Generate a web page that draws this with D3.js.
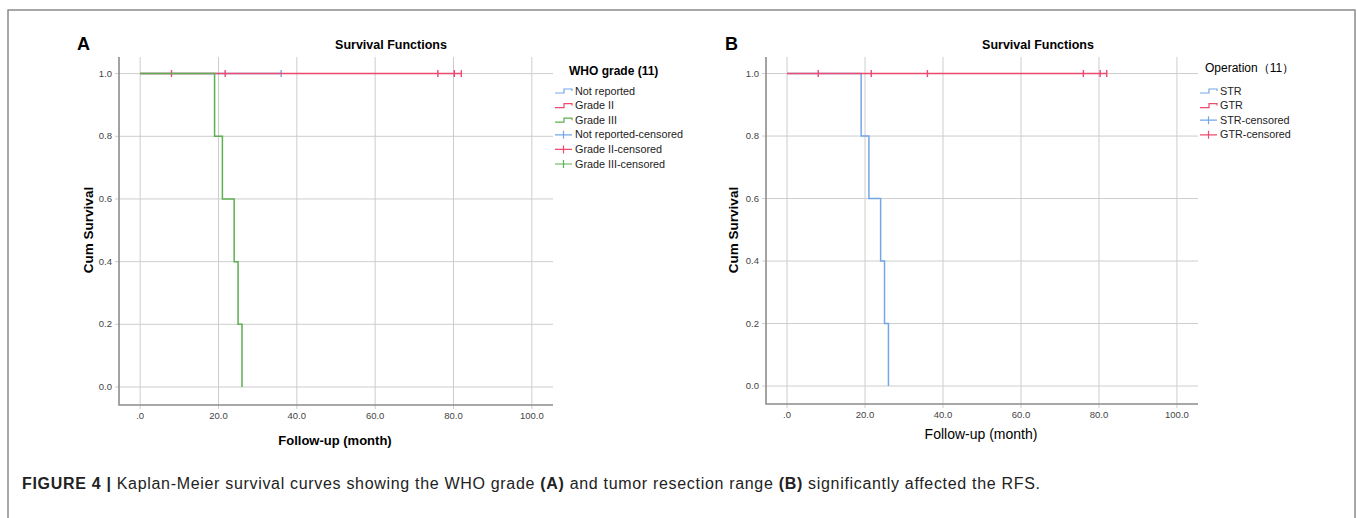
<!DOCTYPE html>
<html>
<head>
<meta charset="utf-8">
<script src="https://cdn.jsdelivr.net/npm/d3@7"></script>
<style>
  body { margin: 0; background: #ffffff; }
  svg { display: block; font-family: "Liberation Sans", Arial, sans-serif; }
</style>
</head>
<body>
<svg id="fig" width="1357" height="518"></svg>
<script>
// Axes
const xTicks = [0, 20, 40, 60, 80, 100];
const xTickLabels = [".0", "20.0", "40.0", "60.0", "80.0", "100.0"];
const yTicks = [0, 0.2, 0.4, 0.6, 0.8, 1.0];
const yTickLabels = ["0.0", "0.2", "0.4", "0.6", "0.8", "1.0"];

// Panel A - WHO grade
const gradeLegend = ["Not reported", "Grade II", "Grade III",
    "Not reported-censored", "Grade II-censored", "Grade III-censored"];
const notReportedCurve = [[0, 1], [36, 1]];
const notReportedCensored = [36];
const gradeIICurve = [[0, 1], [82, 1]];
const gradeIICensored = [8, 21.7, 76, 80.2, 82];
const gradeIIICurve = [[0, 1], [19, 0.8], [21, 0.6], [24, 0.4], [25, 0.2], [26, 0]];
const gradeIIICensored = [];

// Panel B - Operation
const opLegend = ["STR", "GTR", "STR-censored", "GTR-censored"];
const strCurve = [[0, 1], [19, 0.8], [21, 0.6], [24, 0.4], [25, 0.2], [26, 0]];
const strCensored = [];
const gtrCurve = [[0, 1], [82, 1]];
const gtrCensored = [8, 21.6, 36, 76, 80.3, 82];

const colors = {
    blue: "#74a7e6",
    red: "#ec4a6e",
    green: "#5cb04f",
    grid: "#cdcdcd",
    axis: "#8c8c8c",
    tick: "#444444"
};

const svg = d3.select("#fig");

// outer frame (open at the bottom)
svg.append("path")
    .attr("d", "M8,530 V10 H1355 V530")
    .attr("fill", "none")
    .attr("stroke", "#8a8a8a")
    .attr("stroke-width", 1.5);

function drawPanel(p) {
    const g = svg.append("g");
    const x = d3.scaleLinear().domain([-5.4, 105.4]).range([p.left, p.right]);
    const y = d3.scaleLinear().domain([-0.0575, 1.053]).range([p.bottom, p.top]);

    // grid
    g.selectAll(".vgrid").data(xTicks).enter().append("line")
        .attr("x1", d => x(d)).attr("x2", d => x(d))
        .attr("y1", p.top).attr("y2", p.bottom + 4)
        .attr("stroke", colors.grid).attr("stroke-width", 1);
    g.selectAll(".hgrid").data(yTicks).enter().append("line")
        .attr("x1", p.left - 4).attr("x2", p.right)
        .attr("y1", d => y(d)).attr("y2", d => y(d))
        .attr("stroke", colors.grid).attr("stroke-width", 1);

    // axis lines
    g.append("path")
        .attr("d", `M${p.left},${p.top} V${p.bottom} H${p.right}`)
        .attr("fill", "none").attr("stroke", colors.axis).attr("stroke-width", 1.6);

    // tick labels
    g.selectAll(".xl").data(xTicks).enter().append("text")
        .attr("x", d => x(d)).attr("y", p.bottom + 14)
        .attr("text-anchor", "middle").attr("font-size", 9.5).attr("fill", colors.tick)
        .text((d, i) => xTickLabels[i]);
    g.selectAll(".yl").data(yTicks).enter().append("text")
        .attr("x", p.left - 7).attr("y", d => y(d) + 3)
        .attr("text-anchor", "end").attr("font-size", 9.5).attr("fill", colors.tick)
        .text((d, i) => yTickLabels[i]);

    // titles
    g.append("text").attr("x", p.titleX).attr("y", 49)
        .attr("text-anchor", "middle").attr("font-size", 12.5).attr("font-weight", "bold")
        .text("Survival Functions");
    g.append("text").attr("x", p.letterX).attr("y", 50)
        .attr("font-size", 18).attr("font-weight", "bold")
        .text(p.letter);
    g.append("text")
        .attr("transform", `translate(${p.yTitleX},230) rotate(-90)`)
        .attr("text-anchor", "middle").attr("font-size", 13.5).attr("font-weight", "bold")
        .text("Cum Survival");
    g.append("text").attr("x", p.xTitleX).attr("y", p.xTitleY)
        .attr("text-anchor", "middle").attr("font-size", p.xTitleSize)
        .attr("font-weight", p.xTitleWeight)
        .text("Follow-up (month)");

    // curves
    const line = d3.line().x(d => x(d[0])).y(d => y(d[1])).curve(d3.curveStepAfter);
    p.series.forEach(s => {
        g.append("path").datum(s.curve)
            .attr("d", line)
            .attr("fill", "none").attr("stroke", s.color).attr("stroke-width", 1.5);
        g.selectAll(null).data(s.censored).enter().append("line")
            .attr("x1", d => x(d)).attr("x2", d => x(d))
            .attr("y1", y(1) - 3.5).attr("y2", y(1) + 3.5)
            .attr("stroke", s.color).attr("stroke-width", 1.4);
    });

    // legend
    const lg = g.append("g").attr("transform", `translate(${p.legendX},0)`);
    lg.append("text").attr("x", p.legendTitleDx).attr("y", p.legendTitleY)
        .attr("font-size", 12).attr("font-weight", p.legendTitleWeight)
        .text(p.legendTitle);
    p.legend.forEach((name, i) => {
        const cy = 91 + i * 14.6;
        const col = p.legendColors[i];
        if (i < p.legendColors.length / 2) {
            lg.append("path")
                .attr("d", `M0,${cy + 2} H9 V${cy - 2} H17 V${cy}`)
                .attr("fill", "none").attr("stroke", col).attr("stroke-width", 1.2);
        } else {
            lg.append("path")
                .attr("d", `M0,${cy} H17 M8.5,${cy - 4} V${cy + 4}`)
                .attr("fill", "none").attr("stroke", col).attr("stroke-width", 1.2);
        }
        lg.append("text").attr("x", 20).attr("y", cy + 3.5)
            .attr("font-size", 10.8).attr("fill", "#222")
            .text(name);
    });
}

drawPanel({
    left: 119, right: 553, top: 57, bottom: 405,
    letter: "A", letterX: 77, titleX: 391, yTitleX: 93,
    xTitleX: 335, xTitleY: 445, xTitleSize: 13, xTitleWeight: "bold",
    legendX: 555, legendTitle: "WHO grade (11)", legendTitleDx: 14, legendTitleY: 75,
    legendTitleWeight: "bold",
    legend: gradeLegend,
    legendColors: [colors.blue, colors.red, colors.green, colors.blue, colors.red, colors.green],
    series: [
        { curve: notReportedCurve, censored: notReportedCensored, color: colors.blue },
        { curve: gradeIICurve, censored: gradeIICensored, color: colors.red },
        { curve: gradeIIICurve, censored: gradeIIICensored, color: colors.green }
    ]
});

drawPanel({
    left: 766, right: 1198, top: 57, bottom: 404,
    letter: "B", letterX: 725, titleX: 1038, yTitleX: 738,
    xTitleX: 981, xTitleY: 439, xTitleSize: 14, xTitleWeight: "normal",
    legendX: 1200, legendTitle: "Operation（11）", legendTitleDx: 5, legendTitleY: 72,
    legendTitleWeight: "normal",
    legend: opLegend,
    legendColors: [colors.blue, colors.red, colors.blue, colors.red],
    series: [
        { curve: strCurve, censored: strCensored, color: colors.blue },
        { curve: gtrCurve, censored: gtrCensored, color: colors.red }
    ]
});

// caption
const cap = svg.append("text").attr("x", 22).attr("y", 489).attr("font-size", 16)
    .attr("fill", "#222").attr("textLength", 1018).attr("lengthAdjust", "spacing");
cap.append("tspan").attr("font-weight", "bold").text("FIGURE 4 | ");
cap.append("tspan").text("Kaplan-Meier survival curves showing the WHO grade ");
cap.append("tspan").attr("font-weight", "bold").text("(A)");
cap.append("tspan").text(" and tumor resection range ");
cap.append("tspan").attr("font-weight", "bold").text("(B)");
cap.append("tspan").text(" significantly affected the RFS.");
</script>
</body>
</html>
